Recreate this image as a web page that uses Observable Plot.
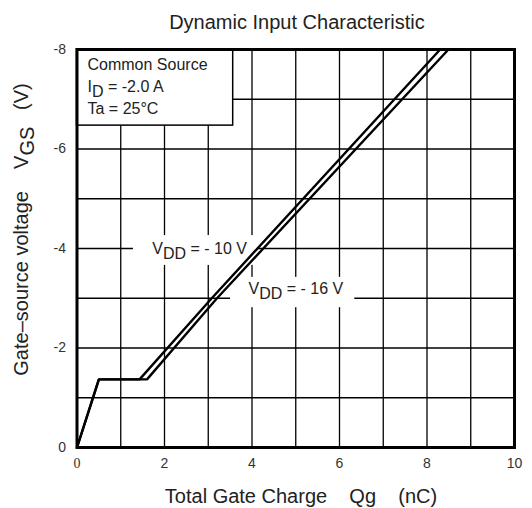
<!DOCTYPE html>
<html>
<head>
<meta charset="utf-8">
<script src="https://cdn.jsdelivr.net/npm/d3@7"></script>
<script src="https://cdn.jsdelivr.net/npm/@observablehq/plot@0.6"></script>
<style>
  html, body { margin: 0; padding: 0; background: white; }
  #chart svg { display: block; }
</style>
</head>
<body>
<div id="chart"></div>
<script>
// ---- data ----
const qgVdd10  = [0, 0.50, 1.43, 3.08, 8.30];
const vgsVdd10 = [0, -1.37, -1.37, -3.0, -8.0];
const qgVdd16  = [0, 0.50, 1.60, 3.20, 8.49];
const vgsVdd16 = [0, -1.37, -1.37, -3.0, -8.0];

const xTickValues = [0, 2, 4, 6, 8, 10];
const yTickValues = [0, -2, -4, -6, -8];
const xGridValues = [0, 1, 2, 3, 4, 5, 6, 7, 8, 9, 10];
const yGridValues = [0, -1, -2, -3, -4, -5, -6, -7, -8];

const titleText = "Dynamic Input Characteristic";
const xLabelText = "Total Gate Charge\u00a0\u00a0\u00a0\u00a0Qg\u00a0\u00a0\u00a0\u00a0(nC)";
const yLabelText = "Gate\u2013source voltage\u00a0\u00a0\u00a0\u00a0V_{GS}\u00a0\u00a0\u00a0(V)";

const infoLines = ["Common Source", "I_{D} = -2.0 A", "Ta = 25°C"];
const curveLabels = ["V_{DD} = - 10 V", "V_{DD} = - 16 V"];

// ---- annotation placement (data units) ----
const infoLineY = [-7.58, -7.15, -6.71];
const infoBox = [{x1: 0, x2: 3.57, y1: -8, y2: -6.47}];
const curveLabelPos = [{x: 1.72, y: -3.88}, {x: 3.92, y: -3.08}];
const labelBoxes = [
  {x1: 1.29, x2: 4.12, y1: -3.66, y2: -4.26},
  {x1: 3.51, x2: 6.35, y1: -2.81, y2: -3.42}
];

const series10 = qgVdd10.map((q, i) => ({q, v: vgsVdd10[i]}));
const series16 = qgVdd16.map((q, i) => ({q, v: vgsVdd16[i]}));
const infoData = infoLines.map((t, i) => ({t, x: 0.24, y: infoLineY[i]}));
const curveLabelData = curveLabels.map((t, i) => ({t, ...curveLabelPos[i]}));

const FONT = "'Liberation Sans', Arial, Helvetica, sans-serif";
const W = 532, H = 508;

const plot = Plot.plot({
  width: W,
  height: H,
  marginLeft: 76.5,
  marginRight: 18,
  marginTop: 49,
  marginBottom: 61,
  style: {fontFamily: FONT, fontSize: "14px", color: "#333", background: "white", overflow: "visible"},
  x: {domain: [0, 10], ticks: xTickValues, tickSize: 0, tickPadding: 11, label: null},
  y: {domain: [0, -8], ticks: yTickValues, tickSize: 0, tickPadding: 11, label: null, tickFormat: d => String(d)},
  marks: [
    Plot.gridX(xGridValues, {stroke: "black", strokeOpacity: 1, strokeWidth: 1.3}),
    Plot.gridY(yGridValues, {stroke: "black", strokeOpacity: 1, strokeWidth: 1.3}),
    Plot.rect(labelBoxes, {x1: "x1", x2: "x2", y1: "y1", y2: "y2", fill: "white"}),
    Plot.rect(infoBox, {x1: "x1", x2: "x2", y1: "y1", y2: "y2", fill: "white", stroke: "black", strokeWidth: 1.5}),
    Plot.text(infoData, {x: "x", y: "y", text: "t", textAnchor: "start", lineAnchor: "bottom", fontSize: 16, fill: "#222"}),
    Plot.text(curveLabelData, {x: "x", y: "y", text: "t", textAnchor: "start", lineAnchor: "bottom", fontSize: 16, fill: "#222"}),
    Plot.line(series10, {x: "q", y: "v", stroke: "black", strokeWidth: 2.4, strokeLinejoin: "miter"}),
    Plot.line(series16, {x: "q", y: "v", stroke: "black", strokeWidth: 2.4, strokeLinejoin: "miter"}),
    Plot.frame({stroke: "black", strokeWidth: 3})
  ]
});

document.getElementById("chart").appendChild(plot);

const svg = d3.select(plot);

// subscripts: turn "_{..}" into lowered tspans
function applySubscripts(el) {
  const s = el.textContent;
  if (!s.includes("_{")) return;
  const parts = s.split(/(_\{[^}]*\})/).filter(p => p.length);
  el.textContent = "";
  let lowered = false;
  for (const p of parts) {
    const ts = document.createElementNS("http://www.w3.org/2000/svg", "tspan");
    if (p.startsWith("_{")) {
      ts.textContent = p.slice(2, -1);
      ts.setAttribute("dy", "0.3em");
      lowered = true;
    } else {
      ts.textContent = p;
      if (lowered) { ts.setAttribute("dy", "-0.3em"); lowered = false; }
    }
    el.appendChild(ts);
  }
}

// title
svg.append("text")
  .attr("x", 297).attr("y", 29)
  .attr("text-anchor", "middle")
  .attr("font-family", FONT).attr("font-size", 20).attr("fill", "#222")
  .text(titleText);

// x label
svg.append("text")
  .attr("x", 301).attr("y", 503)
  .attr("text-anchor", "middle")
  .attr("font-family", FONT).attr("font-size", 20).attr("fill", "#222")
  .text(xLabelText);

// y label
svg.append("text")
  .attr("transform", "translate(28,229.5) rotate(-90)")
  .attr("text-anchor", "middle")
  .attr("font-family", FONT).attr("font-size", 20).attr("fill", "#222")
  .text(yLabelText);

svg.selectAll("text").each(function() { applySubscripts(this); });

// the "0" on the x axis is set in a serif face in the reference
svg.selectAll('g[aria-label="x-axis tick label"] text')
  .filter(function() { return this.textContent === "0"; })
  .attr("font-family", "'Liberation Serif', 'Times New Roman', serif");
</script>
</body>
</html>
